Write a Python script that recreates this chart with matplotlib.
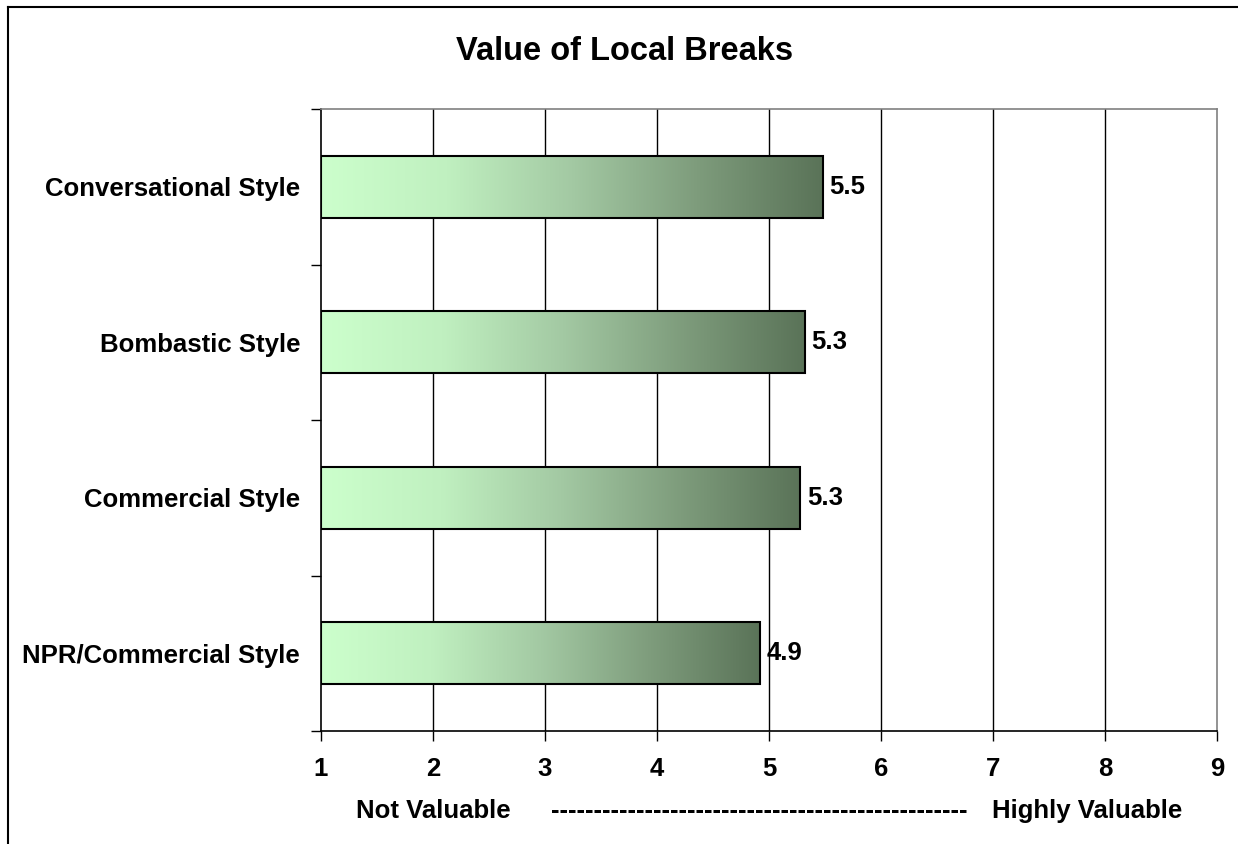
import matplotlib
matplotlib.use("Agg")
import matplotlib.pyplot as plt
import numpy as np
from matplotlib.colors import LinearSegmentedColormap
from matplotlib.lines import Line2D

plt.rcParams['font.family'] = ['Liberation Sans', 'DejaVu Sans']

categories = ["Conversational Style", "Bombastic Style", "Commercial Style", "NPR/Commercial Style"]
values = [5.48, 5.32, 5.28, 4.92]
value_labels = ["5.5", "5.3", "5.3", "4.9"]
x_ticks = [1, 2, 3, 4, 5, 6, 7, 8, 9]
title = "Value of Local Breaks"
left_label = "Not Valuable"
mid_label = "-" * 49
right_label = "Highly Valuable"

FS = 18.5

fig = plt.figure(figsize=(12.38, 8.44), dpi=100)
ax = fig.add_axes([321/1238, 1-731/844, (1217-321)/1238, (731-109)/844])

cmap = LinearSegmentedColormap.from_list("g", ["#CCFFCC", "#C0F0C0", "#A3C9A3", "#7E9C7C", "#5A7358"])
y = np.arange(len(categories))
bars = ax.barh(y, [v - 1 for v in values], left=1, height=0.4,
               facecolor='none', edgecolor='black', linewidth=1.5, zorder=3)
grad = np.linspace(0, 1, 256).reshape(1, -1)
for b in bars:
    x0, y0 = b.get_x(), b.get_y()
    w, h = b.get_width(), b.get_height()
    im = ax.imshow(grad, cmap=cmap, extent=[x0, x0 + w, y0, y0 + h],
                   aspect='auto', zorder=2, interpolation='bilinear')
    im.set_clip_path(b)

for yi, v, lab in zip(y, values, value_labels):
    ax.text(v + 0.06, yi, lab, va='center', ha='left', fontsize=FS,
            fontweight='bold', zorder=4)

ax.set_xlim(1, 9)
ax.set_ylim(len(categories) - 0.5, -0.5)
ax.set_xticks(x_ticks)
ax.set_xticklabels([str(t) for t in x_ticks], fontsize=FS, fontweight='bold')
ax.tick_params(axis='x', length=7, width=1, pad=12, direction='out')

ax.set_yticks(np.arange(-0.5, len(categories), 1.0))
ax.set_yticklabels([])
ax.tick_params(axis='y', which='major', length=7, width=1, direction='out')
ax.set_yticks(y, minor=True)
ax.set_yticklabels(categories, minor=True, fontsize=FS, fontweight='bold')
ax.tick_params(axis='y', which='minor', length=0, pad=15)

for xv in x_ticks[1:-1]:
    ax.axvline(xv, color='black', linewidth=1, zorder=1)

ax.spines['left'].set_color('black')
ax.spines['bottom'].set_color('black')
ax.spines['top'].set_color('#808080')
ax.spines['right'].set_color('#808080')
for s in ax.spines.values():
    s.set_linewidth(1.2)

fig.text(625/1238, 1-51/844, title, ha='center', va='center', fontsize=23.5, fontweight='bold')

ty = 1 - 811/844
fig.text(433/1238, ty, left_label, ha='center', va='center', fontsize=FS, fontweight='bold')
fig.text(759/1238, ty, mid_label, ha='center', va='center', fontsize=FS, fontweight='bold')
fig.text(1087/1238, ty, right_label, ha='center', va='center', fontsize=FS, fontweight='bold')

fig.add_artist(Line2D([8/1238, 8/1238], [0, 1-7/844], transform=fig.transFigure, color='black', linewidth=1.5))
fig.add_artist(Line2D([8/1238, 1], [1-7/844, 1-7/844], transform=fig.transFigure, color='black', linewidth=1.5))

fig.savefig("out.png", dpi=100)
